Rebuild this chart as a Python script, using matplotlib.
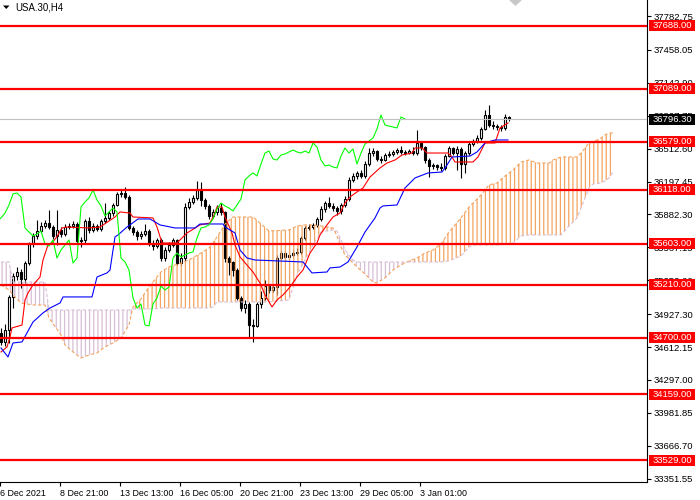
import numpy as np
import matplotlib
matplotlib.use("Agg")
import matplotlib.pyplot as plt
from matplotlib.patches import Rectangle, Polygon
from matplotlib.transforms import blended_transform_factory

plt.rcParams['font.family'] = ['Liberation Sans', 'DejaVu Sans']

# ---- data (USA.30, H4) ----
first_open = 34747
closes = [
    34661, 34776, 35092, 35293, 35331, 35264, 35417, 35600, 35676, 35724,
    35772, 35801, 35762, 35676, 35734, 35695, 35762, 35772, 35791, 35628,
    35638, 35820, 35734, 35772, 35743, 35820, 35849, 35896, 35973, 36079,
    36088, 36050, 35753, 35714, 35676, 35695, 35724, 35600, 35580, 35638,
    35465, 35542, 35590, 35638, 35417, 35465, 35954, 36002, 36040, 36117,
    36021, 35964, 35868, 35906, 35944, 35906, 35465, 35427, 35350, 35082,
    34986, 35025, 34823, 34814, 35025, 35082, 35197, 35159, 35187, 35465,
    35513, 35475, 35494, 35513, 35523, 35657, 35753, 35762, 35782, 35839,
    35935, 35992, 35964, 35944, 35916, 35973, 36031, 36213, 36251, 36280,
    36251, 36366, 36471, 36490, 36414, 36404, 36452, 36462, 36481, 36500,
    36481, 36471, 36490, 36471, 36567, 36529, 36404, 36347, 36356, 36337,
    36328, 36442, 36519, 36471, 36510, 36366, 36471, 36557, 36586, 36615,
    36701, 36835, 36739, 36730, 36720, 36711, 36816, 36796.3]
highs = [
    34795, 34830, 35110, 35320, 35380, 35360, 35440, 35620, 35700, 35830,
    35810, 35830, 35925, 35780, 35925, 35760, 35790, 35800, 35820, 35810,
    35670, 35840, 35860, 35800, 35790, 35840, 35990, 35920, 35990, 36100,
    36120, 36150, 36070, 35770, 35730, 35720, 35790, 35740, 35640, 35660,
    35660, 35570, 35620, 35660, 35650, 35510, 35990, 36040, 36070, 36200,
    36190, 36040, 35980, 35930, 35970, 35990, 35920, 35480, 35440, 35370,
    35100, 35060, 35040, 34880, 35040, 35150, 35250, 35220, 35210, 35490,
    35540, 35530, 35520, 35540, 35560, 35680, 35770, 35790, 35800, 35860,
    35960, 36010, 36050, 35990, 35960, 35990, 36060, 36240, 36280, 36300,
    36310, 36390, 36520, 36520, 36500, 36440, 36470, 36490, 36500, 36520,
    36540, 36500, 36510, 36530, 36690, 36590, 36540, 36420, 36380, 36370,
    36380, 36460, 36540, 36530, 36540, 36530, 36490, 36580, 36610, 36640,
    36720, 36880, 36930, 36780, 36750, 36740, 36840, 36830]
lows = [
    34632, 34622, 34650, 34990, 35250, 35180, 35230, 35400, 35570, 35650,
    35700, 35750, 35740, 35650, 35590, 35670, 35680, 35740, 35750, 35600,
    35570, 35610, 35700, 35710, 35720, 35720, 35800, 35830, 35870, 35960,
    36050, 36030, 35730, 35690, 35640, 35650, 35680, 35580, 35540, 35560,
    35440, 35440, 35520, 35570, 35400, 35390, 35440, 35930, 35980, 36020,
    35960, 35930, 35840, 35850, 35880, 35880, 35430, 35300, 35290, 35060,
    34960, 34940, 34700, 34660, 34800, 34990, 35060, 35130, 35140, 35110,
    35450, 35450, 35460, 35470, 35490, 35500, 35640, 35730, 35740, 35760,
    35820, 35910, 35940, 35920, 35880, 35890, 35950, 36010, 36190, 36220,
    36230, 36230, 36350, 36440, 36390, 36380, 36390, 36430, 36440, 36460,
    36460, 36450, 36460, 36450, 36450, 36500, 36380, 36240, 36320, 36310,
    36300, 36310, 36430, 36450, 36310, 36230, 36280, 36450, 36540, 36570,
    36600, 36690, 36720, 36700, 36690, 36680, 36690, 36780]

# Ichimoku lines (bar index, price)
tenkan_x = [0, 1.5, 2.25, 2.75, 5.25, 6, 6.75, 8, 9.75, 10.5,
            11.75, 13, 14.25, 15.25, 16.5, 21.75, 24.75, 28.5, 29.75, 32.25,
            33, 38, 39, 40.25, 44, 45.25, 46.5, 47.75, 49.75, 52.25,
            53.5, 54, 55.25, 56, 57.75, 58.5, 59.75, 63, 64.75, 66,
            67.75, 69, 70.5, 72.25, 74, 75.5, 77.25, 79, 79.75, 81.5,
            83, 84.75, 86, 87.25, 89, 90.5, 92.25, 94.75, 96.5, 98.5,
            100.25, 102.75, 103.5, 105.25, 106.5, 111.75, 112.75, 113.5, 118, 119.25,
            121, 123.5, 124.75, 126.75]
tenkan_y = [34565, 34613, 34708, 34795, 34823, 35063, 35130, 35207, 35283, 35446,
            35590, 35619, 35686, 35753, 35762, 35753, 35762, 35858, 35906, 35896,
            35858, 35849, 35762, 35609, 35609, 35657, 35705, 35734, 35782, 35801,
            35896, 35954, 35954, 35858, 35705, 35590, 35475, 35331, 35226, 35111,
            34996, 35063, 35111, 35187, 35283, 35350, 35513, 35609, 35686, 35782,
            35858, 35896, 35992, 36050, 36098, 36136, 36241, 36328, 36375, 36404,
            36452, 36471, 36519, 36519, 36471, 36471, 36433, 36385, 36385, 36433,
            36567, 36567, 36711, 36759]

kijun_x = [0, 1.75, 3, 5.25, 8, 10.5, 12.25, 14.75, 15.5, 22.75,
           24, 26.5, 27.25, 28.5, 29.25, 31.5, 32.25, 34.25, 37.25, 39.75,
           43.5, 48.5, 49.75, 55.5, 56, 58.5, 59.75, 61.5, 63.5, 75.5,
           77.75, 81.5, 82.25, 84.75, 86.75, 89, 91, 93.5, 94.75, 95.5,
           99, 101, 103.5, 106.75, 110.25, 111.5, 112.75, 117.25, 119, 121,
           121.75, 123.5, 126.75]
kijun_y = [34603, 34517, 34651, 34661, 34852, 34939, 34986, 35034, 35092, 35092,
           35283, 35322, 35350, 35667, 35686, 35762, 35782, 35839, 35839, 35782,
           35753, 35753, 35791, 35791, 35762, 35705, 35542, 35465, 35446, 35427,
           35322, 35331, 35370, 35379, 35427, 35571, 35714, 35849, 35944, 35964,
           35973, 36136, 36232, 36280, 36289, 36356, 36433, 36442, 36481, 36567,
           36577, 36596, 36596]

cloud_x = [0, 2, 3, 5, 8, 11, 12, 15, 16, 18,
           20, 22, 24, 26, 28, 30, 32, 33, 35, 37,
           38, 40, 42, 45, 47, 50, 52, 53, 54, 55,
           56, 58, 63, 65, 67, 72, 74, 76, 78, 80,
           83, 84, 85, 86, 88, 89, 91, 93, 94, 96,
           98, 100, 102, 104, 106, 108, 110, 112, 115, 117,
           118, 120, 122, 124, 126, 128, 130, 132, 134, 137,
           138, 140, 142, 144, 145, 146, 147, 148, 150, 151,
           152, 153]
senkou_a = [35207, 35159, 35111, 35034, 35015, 35015, 34891, 34728, 34632, 34565,
            34507, 34536, 34555, 34613, 34651, 34699, 34823, 34996, 35073, 35187,
            35235, 35331, 35379, 35417, 35446, 35513, 35561, 35609, 35667, 35724,
            35791, 35858, 35858, 35791, 35724, 35734, 35772, 35782, 35782, 35772,
            35753, 35676, 35571, 35494, 35417, 35379, 35312, 35235, 35226, 35274,
            35350, 35398, 35437, 35465, 35513, 35542, 35600, 35714, 35849, 35954,
            35992, 36069, 36165, 36184, 36251, 36308, 36385, 36404, 36375, 36375,
            36404, 36433, 36433, 36433, 36471, 36519, 36567, 36577, 36615, 36644,
            36663, 36663]
senkou_b = [35427, 35427, 35235, 35235, 35235, 35235, 34967, 34967, 34967, 34967,
            34967, 34967, 34967, 34967, 34967, 34967, 34967, 34977, 34977, 34977,
            34977, 34986, 34986, 34986, 34986, 34986, 34986, 34996, 35044, 35044,
            35044, 35044, 35044, 35044, 35044, 35063, 35302, 35446, 35590, 35714,
            35734, 35724, 35638, 35542, 35446, 35427, 35427, 35427, 35427, 35427,
            35427, 35427, 35427, 35427, 35427, 35427, 35427, 35437, 35485, 35571,
            35590, 35590, 35590, 35590, 35600, 35609, 35676, 35686, 35686, 35686,
            35686, 35686, 35772, 35849, 35944, 36040, 36136, 36174, 36184, 36203,
            36232, 36289]

chikou_shift = 26
levels = [37688, 37089, 36579, 36118, 35603, 35210, 34700, 34159, 33529]
last_price = 36796.3
y_ticks = [37782.75, 37458.05, 37142.90, 36827.75, 36512.60, 36197.45, 35882.30,
           35567.15, 35252.00, 34927.30, 34612.15, 34297.00, 33981.85, 33666.70,
           33351.55]
x_tick_bars = [0, 15, 30, 45, 60, 75, 90, 105]
x_tick_labels = ['6 Dec 2021', '8 Dec 21:00', '13 Dec 13:00', '16 Dec 05:00',
                 '20 Dec 21:00', '23 Dec 13:00', '29 Dec 05:00', '3 Jan 01:00']

# ---- figure ----
W, H = 700, 500
plot_w, plot_h = 647, 482
fig = plt.figure(figsize=(7, 5), dpi=100)
ax = fig.add_axes([0, (H - plot_h) / H, plot_w / W, plot_h / H])
ax.set_xlim(-0.25, 161.5)
ax.set_ylim(33319, 37937)

closes_a = np.array(closes)
opens = np.concatenate([[first_open], closes_a[:-1]])
bars = np.arange(len(closes_a))

# candles
ax.vlines(bars, lows, highs, color='black', lw=0.8, zorder=2)
up = closes_a >= opens
body_lo = np.minimum(opens, closes_a)
body_h = np.abs(closes_a - opens)
ax.bar(bars[up], body_h[up], bottom=body_lo[up], width=0.62, color='white',
       edgecolor='black', linewidth=0.8, zorder=3)
ax.bar(bars[~up], body_h[~up], bottom=body_lo[~up], width=0.62, color='black',
       edgecolor='black', linewidth=0.8, zorder=3)

# kumo
sa = np.array(senkou_a)
sb = np.array(senkou_b)
plt.rcParams['hatch.linewidth'] = 0.9
plt.rcParams['hatch.color'] = '#F4A460'
ax.fill_between(cloud_x, sa, sb, where=sa >= sb, interpolate=True,
                facecolor='none', edgecolor='#F4A460', hatch='||||',
                linewidth=0, zorder=4)
plt.rcParams['hatch.color'] = '#D8BFD8'
ax.fill_between(cloud_x, sa, sb, where=sa < sb, interpolate=True,
                facecolor='none', edgecolor='#D8BFD8', hatch='||||',
                linewidth=0, zorder=4)
ax.plot(cloud_x, senkou_a, color='#F4A460', lw=0.8, ls=(0, (3, 2)), zorder=4)
ax.plot(cloud_x, senkou_b, color='#D8BFD8', lw=0.8, ls=(0, (3, 2)), zorder=4)

# tenkan / kijun / chikou
ax.plot(tenkan_x, tenkan_y, color='#FF0000', lw=0.8, zorder=5)
ax.plot(kijun_x, kijun_y, color='#0000FF', lw=0.8, zorder=5)
ax.plot(bars - chikou_shift, closes_a, color='#00FF00', lw=0.8, zorder=5)

# price levels
ax.axhline(last_price, color='#C0C0C0', lw=0.8, zorder=5)
for lv in levels:
    ax.axhline(lv, color='#FF0000', lw=1.6, zorder=6)

# axis styling
for s in ['left', 'top']:
    ax.spines[s].set_visible(False)
for s in ['right', 'bottom']:
    ax.spines[s].set_color('black')
    ax.spines[s].set_linewidth(0.8)
ax.yaxis.tick_right()
ax.set_yticks(y_ticks)
ax.set_yticklabels([f'{v:.2f}' for v in y_ticks])
ax.tick_params(axis='y', direction='out', length=3, width=0.8, pad=1.5,
               labelsize=6.8, colors='black')
ax.set_xticks([b - 0.25 for b in x_tick_bars])
ax.set_xticklabels(x_tick_labels)
for lab in ax.get_xticklabels():
    lab.set_ha('left')
ax.tick_params(axis='x', direction='out', length=3, width=0.8, pad=2,
               labelsize=6.4, colors='black')

# price boxes on the right scale
trans = blended_transform_factory(ax.transAxes, ax.transData)
px_per_price = plot_h / (37937 - 33319)
box_h = 11 / px_per_price
box_x0 = 649 / plot_w
box_w = 46 / plot_w
box_cx = box_x0 + box_w / 2


def price_box(val, color):
    ax.add_patch(Rectangle((box_x0, val - box_h / 2), box_w, box_h,
                           transform=trans, facecolor=color, edgecolor='none',
                           clip_on=False, zorder=10))
    ax.text(box_cx, val, f'{val:.2f}', transform=trans, color='white',
            fontsize=6.8, ha='center', va='center', clip_on=False, zorder=11)


for lv in levels:
    price_box(lv, '#FF0000')
price_box(last_price, '#000000')

# title and small markers
fig.text(15 / W, 1 - 7 / H, 'USA.30,H4', fontsize=6.9, color='black',
         ha='left', va='center')
fig.patches.append(Polygon([(3 / W, 1 - 5.5 / H), (9.5 / W, 1 - 5.5 / H),
                            (6.25 / W, 1 - 9 / H)], closed=True,
                           transform=fig.transFigure, facecolor='black',
                           edgecolor='none'))
fig.patches.append(Polygon([(509 / W, 1.0), (522 / W, 1.0),
                            (515.5 / W, 1 - 6 / H)], closed=True,
                           transform=fig.transFigure, facecolor='#C8C8C8',
                           edgecolor='none'))

fig.savefig('out.png', dpi=100)
